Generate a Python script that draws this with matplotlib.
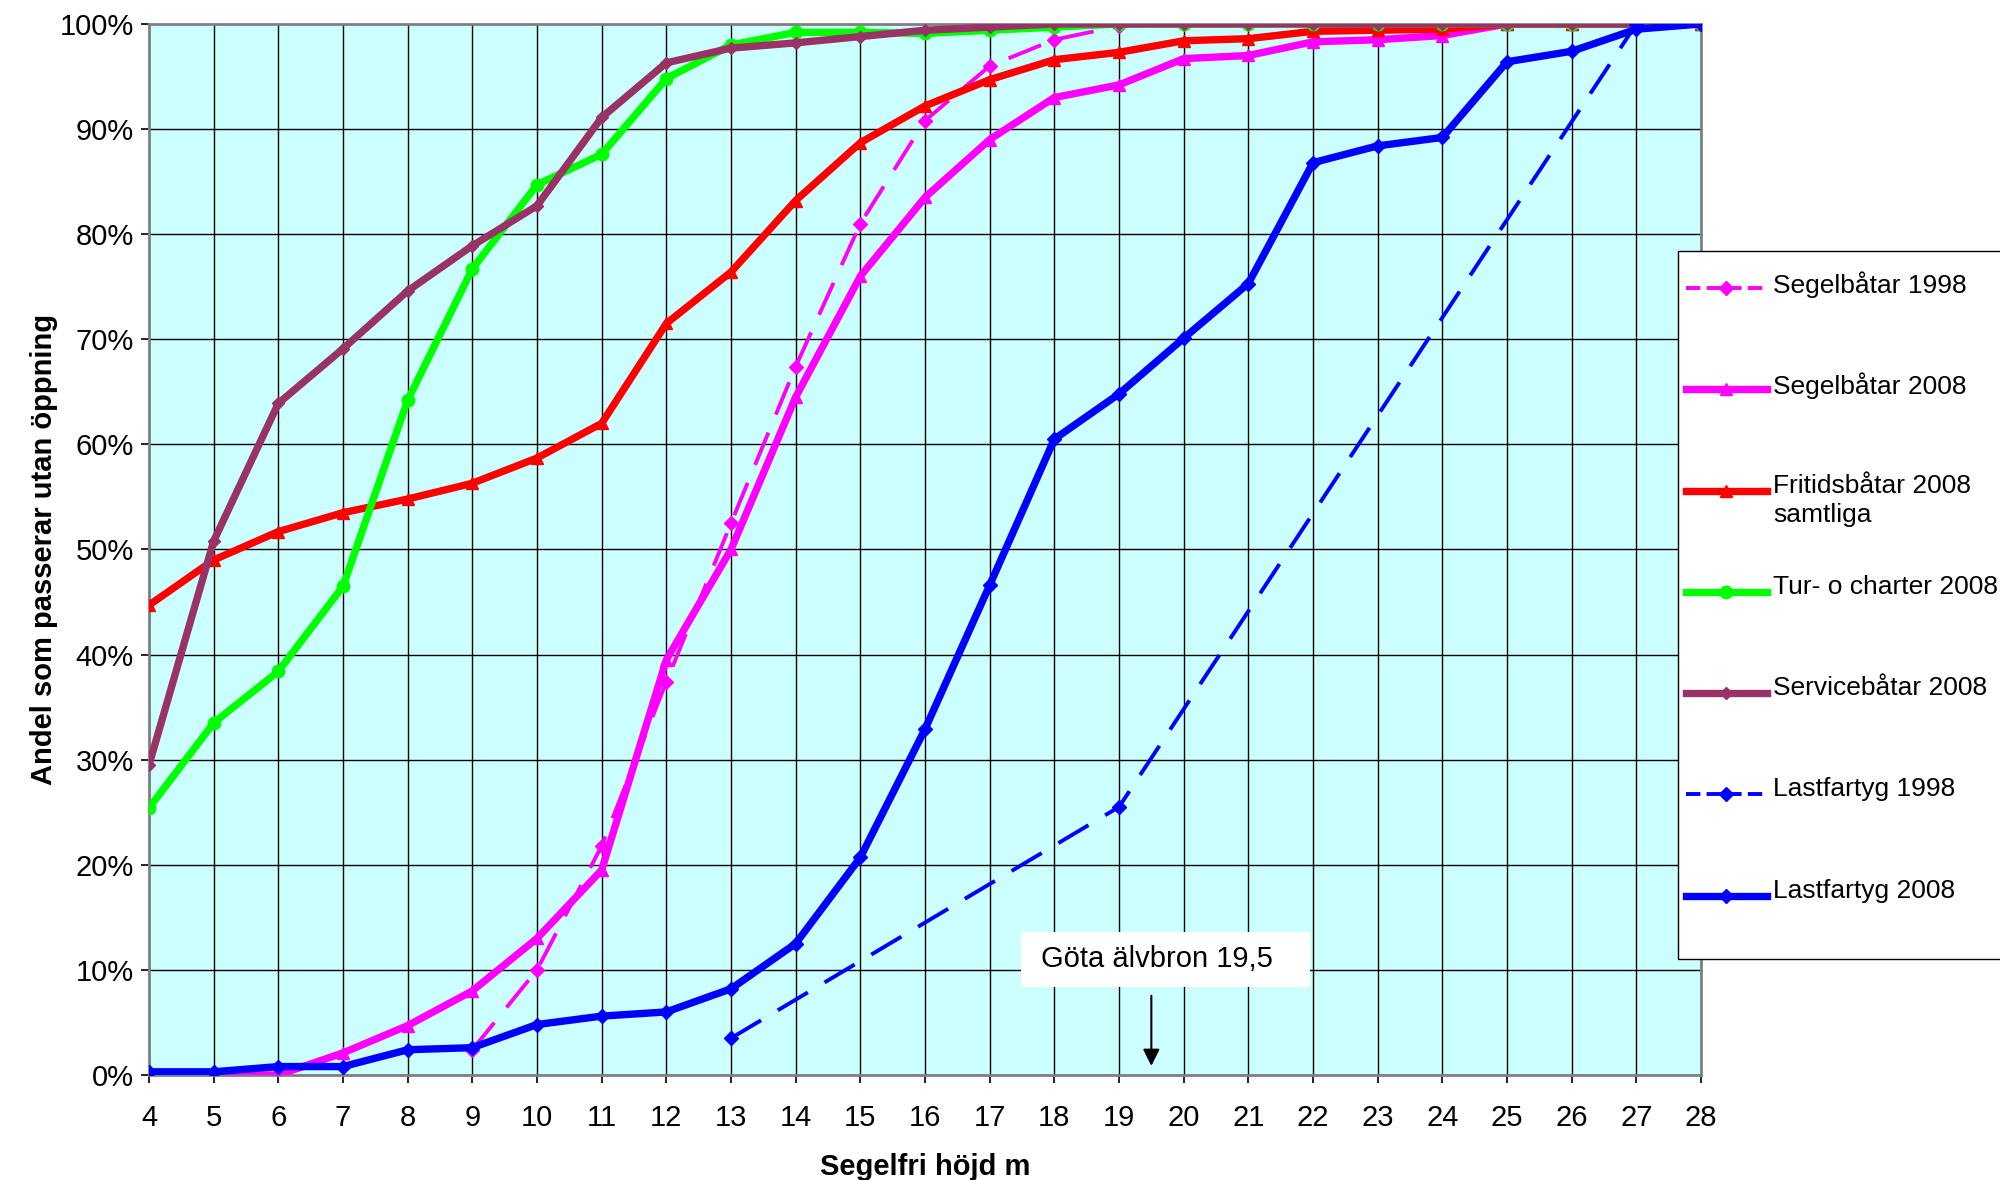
import matplotlib
matplotlib.use("Agg")
from matplotlib import pyplot as plt
from matplotlib.ticker import FuncFormatter
from matplotlib.lines import Line2D
from matplotlib.patches import Rectangle
import numpy as np

plt.rcParams['font.family'] = ['Liberation Sans', 'DejaVu Sans']

# segelfri höjd (m)
hojd = list(range(4, 29))

segel_1998_x = list(range(9, 29))
segel_1998 = [2.4, 10.0, 21.8, 37.4, 52.5, 67.4, 81.0, 90.8, 96.0, 98.5, 99.8,
              100, 100, 100, 100, 100, 100, 100, 100, 100]
segel_2008 = [0, 0, 0, 2.1, 4.7, 8.0, 13.0, 19.5, 39.5, 50.0, 64.5, 76.0, 83.5,
              89.0, 93.0, 94.2, 96.7, 97.0, 98.3, 98.5, 98.9, 100, 100, 100, 100]
fritid_2008 = [44.7, 49.0, 51.7, 53.5, 54.8, 56.3, 58.7, 62.0, 71.5, 76.4, 83.2,
               88.7, 92.2, 94.7, 96.6, 97.3, 98.4, 98.6, 99.3, 99.4, 99.5, 100,
               100, 100, 100]
charter_2008 = [25.4, 33.5, 38.4, 46.5, 64.2, 76.7, 84.7, 87.6, 94.8, 98.0, 99.2,
                99.2, 99.1, 99.4, 99.7, 100, 100, 100, 100, 100, 100, 100, 100,
                100, 100]
service_2008 = [29.5, 50.8, 63.9, 69.1, 74.6, 78.9, 82.7, 91.1, 96.3, 97.7, 98.2,
                98.8, 99.4, 99.7, 100, 100, 100, 100, 100, 100, 100, 100, 100,
                100, 100]
last_1998_x = [13, 19, 27, 28]
last_1998 = [3.5, 25.5, 100, 100]
last_2008 = [0.3, 0.3, 0.8, 0.8, 2.4, 2.6, 4.8, 5.6, 6.0, 8.2, 12.5, 20.7, 32.9,
             46.6, 60.5, 64.8, 70.1, 75.3, 86.8, 88.4, 89.2, 96.4, 97.4, 99.5, 100]

bro_hojd = 19.5
bro_text = "Göta älvbron 19,5"

W, H = 2000, 1180
fig = plt.figure(figsize=(20, 11.8), dpi=100)
ax = fig.add_axes([0.0745, 0.089, 0.776, 0.8907])
ax.set_facecolor("#CCFFFF")

dash = (0, (9, 5))
lines = []
lines += ax.plot(segel_1998_x, segel_1998, color="#FF00FF", lw=2.8, ls=dash,
                 marker="D", ms=7, label="Segelbåtar 1998", zorder=3)
lines += ax.plot(hojd, segel_2008, color="#FF00FF", lw=5.3, marker="^", ms=9,
                 label="Segelbåtar 2008", zorder=4)
lines += ax.plot(hojd, fritid_2008, color="#FF0000", lw=5.3, marker="^", ms=9,
                 label="Fritidsbåtar 2008\nsamtliga", zorder=5)
lines += ax.plot(hojd, charter_2008, color="#00FF00", lw=5.3, marker="o", ms=9,
                 label="Tur- o charter 2008", zorder=6)
lines += ax.plot(hojd, service_2008, color="#993366", lw=5.3, marker="D", ms=6,
                 label="Servicebåtar 2008", zorder=7)
lines += ax.plot(last_1998_x, last_1998, color="#0000FF", lw=2.8, ls=dash,
                 marker="D", ms=7, label="Lastfartyg 1998", zorder=8)
lines += ax.plot(hojd, last_2008, color="#0000FF", lw=5.3, marker="D", ms=7,
                 label="Lastfartyg 2008", zorder=9)

ax.set_xlim(4, 28)
ax.set_ylim(0, 100)
ax.set_xticks(hojd)
ax.set_yticks(np.arange(0, 101, 10))
ax.yaxis.set_major_formatter(FuncFormatter(lambda v, p: "%d%%" % v))
ax.grid(True, color="black", lw=1)
ax.set_axisbelow(True)
ax.tick_params(labelsize=21, length=6, width=1.2, direction="out")
ax.tick_params(axis="x", pad=15)
ax.tick_params(axis="y", pad=5)
for s in ax.spines.values():
    s.set_color("#808080")
    s.set_linewidth(2)

ax.set_xlabel("Segelfri höjd m", fontsize=21, fontweight="bold", labelpad=15)
ax.set_ylabel("Andel som passerar utan öppning", fontsize=21,
              fontweight="bold", labelpad=1)

# Göta älvbron
ax.annotate("", xy=(bro_hojd, 0.6), xytext=(bro_hojd, 7.8),
            arrowprops=dict(arrowstyle="-|>", color="black", lw=1.5,
                            mutation_scale=25), zorder=10)
ax.add_patch(Rectangle((17.49, 8.4), 4.46, 5.2, facecolor="white",
                       edgecolor="none", zorder=10))
ax.text(17.79, 11.0, bro_text, fontsize=21, ha="left", va="center", zorder=11)


# legend, Excel style: fixed row pitch, handle on first text line
def fx(px):
    return px / W


def fy(py):
    return 1 - py / H


fig.add_artist(Rectangle((fx(1678), fy(959)), fx(340), (959 - 251) / H,
                         transform=fig.transFigure, facecolor="white",
                         edgecolor="black", lw=1, zorder=20))
row_y = 288
for ln in lines:
    fig.add_artist(Line2D([fx(1686), fx(1767)], [fy(row_y), fy(row_y)],
                          transform=fig.transFigure, color=ln.get_color(),
                          lw=ln.get_linewidth(), ls=ln.get_linestyle(),
                          zorder=21))
    fig.add_artist(Line2D([fx(1726)], [fy(row_y)], transform=fig.transFigure,
                          color=ln.get_color(), marker=ln.get_marker(),
                          ms=ln.get_markersize(), ls="none", zorder=22))
    fig.text(fx(1773), fy(row_y - 17), ln.get_label(), fontsize=19,
             ha="left", va="top", zorder=23, linespacing=1.3)
    row_y += 101.3

plt.savefig("out.png", dpi=100)
